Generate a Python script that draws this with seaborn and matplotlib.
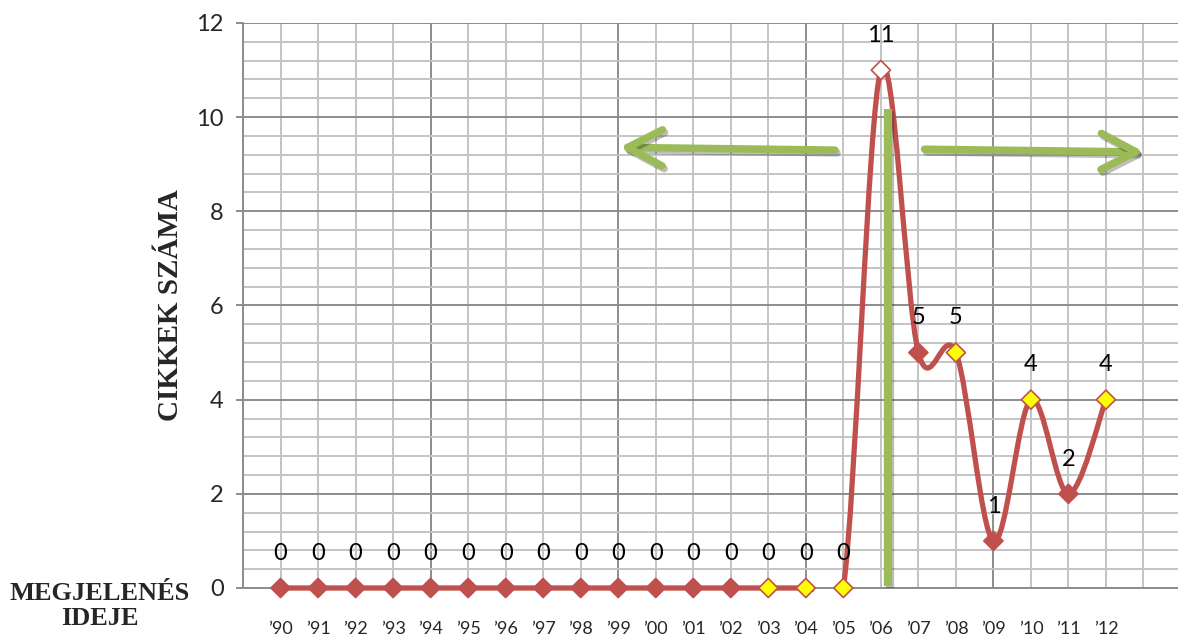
import numpy as np
import pandas as pd
import seaborn as sns
import matplotlib.pyplot as plt
from matplotlib.path import Path
from matplotlib.patches import PathPatch, Rectangle, FancyArrowPatch, ArrowStyle
from matplotlib.ticker import MultipleLocator
import matplotlib.patheffects as pe

# data
years = ['\u201990', '\u201991', '\u201992', '\u201993', '\u201994', '\u201995', '\u201996', '\u201997',
         '\u201998', '\u201999', '\u201900', '\u201901', '\u201902', '\u201903', '\u201904', '\u201905',
         '\u201906', '\u201907', '\u201908', '\u201909', '\u201910', '\u201911', '\u201912']
counts = [0, 0, 0, 0, 0, 0, 0, 0, 0, 0, 0, 0, 0, 0, 0, 0, 11, 5, 5, 1, 4, 2, 4]
fill = ['red', 'red', 'red', 'red', 'red', 'red', 'red', 'red', 'red', 'red', 'red', 'red', 'red',
        'yellow', 'yellow', 'yellow', 'white', 'red', 'yellow', 'red', 'yellow', 'red', 'yellow']

RED = '#C0504D'
GREEN = '#9BBB59'
MINOR = '#C4C4C4'
MAJOR = '#8C8C8C'

df = pd.DataFrame({'pos': np.arange(len(years)), 'year': years, 'count': counts, 'fill': fill})

sns.set_style('white')
plt.rcParams['font.family'] = ['Lato', 'DejaVu Sans']

fig = plt.figure(figsize=(11.78, 6.37), dpi=100)
ax = fig.add_axes([243 / 1178, 49 / 637, 935 / 1178, 565 / 637])

ax.set_xlim(-1, 23.92)
ax.set_ylim(0, 12)

# grid - horizontal
ax.yaxis.set_major_locator(MultipleLocator(2))
ax.yaxis.set_minor_locator(MultipleLocator(0.4))
ax.grid(which='minor', axis='y', color=MINOR, lw=1.4)
ax.grid(which='major', axis='y', color=MAJOR, lw=1.4)
ax.set_axisbelow(True)
# grid - vertical, darker every fifth line
for i in range(-1, 24):
    ax.axvline(i, color=MAJOR if (i + 1) % 5 == 0 else MINOR, lw=1.4, zorder=0.5)

# smoothed line like excel (catmull-rom bezier)
x = df['pos'].values.astype(float)
y = df['count'].values.astype(float)
n = len(x)
verts = [(x[0], y[0])]
codes = [Path.MOVETO]
for i in range(n - 1):
    p0 = (x[max(i - 1, 0)], y[max(i - 1, 0)])
    p1 = (x[i], y[i])
    p2 = (x[i + 1], y[i + 1])
    p3 = (x[min(i + 2, n - 1)], y[min(i + 2, n - 1)])
    c1 = (p1[0] + (p2[0] - p0[0]) / 6, p1[1] + (p2[1] - p0[1]) / 6)
    c2 = (p2[0] - (p3[0] - p1[0]) / 6, p2[1] - (p3[1] - p1[1]) / 6)
    verts += [c1, c2, p2]
    codes += [Path.CURVE4] * 3
line = PathPatch(Path(verts, codes), fill=False, ec=RED, lw=3.8, zorder=3,
                 capstyle='round', joinstyle='round')
ax.add_patch(line)
line.set_clip_path(Rectangle((-1, -0.09), 26, 13, transform=ax.transData))

sns.scatterplot(data=df, x='pos', y='count', hue='fill', marker='D', s=95,
                palette={'red': RED, 'yellow': '#FFFF00', 'white': 'white'},
                edgecolor=RED, linewidth=1.2, legend=False, zorder=4, clip_on=False, ax=ax)

# data labels
for px, py in zip(df['pos'], df['count']):
    ax.annotate(str(py), (px, py), xytext=(0, 25), textcoords='offset points',
                ha='center', va='center', fontsize=17, color='black', zorder=5)

# axes styling
ax.set_xticks(df['pos'])
ax.set_xticklabels(years, fontsize=13)
ax.tick_params(axis='x', length=0, pad=24)
ax.tick_params(axis='y', which='major', length=5, width=1.4, color=MAJOR, labelsize=17, pad=9, left=True)
ax.tick_params(axis='y', which='minor', length=0)
for s in ['top', 'right']:
    ax.spines[s].set_visible(False)
for s in ['left', 'bottom']:
    ax.spines[s].set_color(MAJOR)
    ax.spines[s].set_linewidth(1.4)
ax.set_xlabel('')
ax.set_ylabel('')

# green markers: vertical bar and arrows
shadow = [pe.SimpleLineShadow(offset=(1.5, -2), alpha=0.25), pe.Normal()]
ax.plot([16.19, 16.19], [0.05, 10.18], color=GREEN, lw=6, solid_capstyle='butt',
        zorder=3.5, path_effects=shadow)
style = ArrowStyle('->', head_length=2.5, head_width=1.3)
for (x0, y0), (x1, y1) in [((14.85, 9.30), (8.96, 9.36)), ((17.09, 9.32), (23.09, 9.26))]:
    arr = FancyArrowPatch((x0, y0), (x1, y1), arrowstyle=style, mutation_scale=10,
                          color=GREEN, lw=5.4, capstyle='round', joinstyle='round',
                          zorder=3.5, path_effects=shadow)
    ax.add_patch(arr)

# axis titles
fig.text(170 / 1178, 1 - 305 / 637, 'CIKKEK SZÁMA', rotation=90, ha='center', va='center',
         family=['Liberation Serif', 'DejaVu Serif'], fontweight='bold', fontsize=21)
fig.text(100 / 1178, 1 - 606 / 637, 'MEGJELENÉS\nIDEJE', ha='center', va='center',
         family=['Liberation Serif', 'DejaVu Serif'], fontweight='bold', fontsize=19,
         linespacing=1.15)

fig.savefig('out.png', dpi=100)
